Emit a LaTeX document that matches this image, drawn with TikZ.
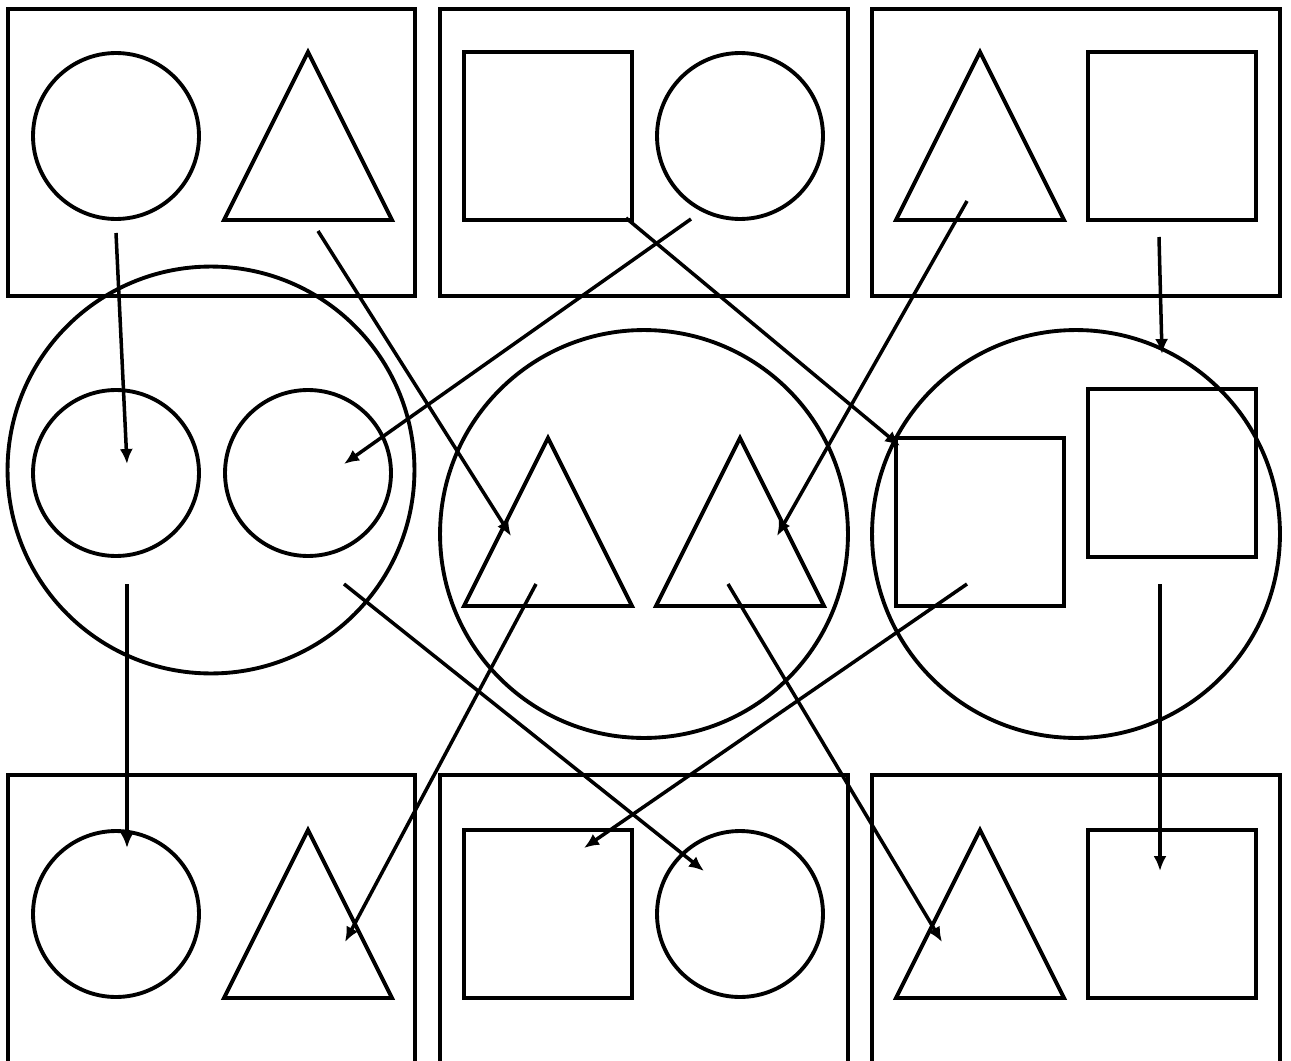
\documentclass[tikz,border=0pt]{standalone}
\usetikzlibrary{arrows.meta}
\begin{document}
\begin{tikzpicture}[x=0.02cm,y=-0.02cm,
  outl/.style={draw=black, line width=2.2pt, line join=miter, inner sep=0pt, outer sep=0pt},
  panel/.style={draw=black, line width=2.5pt, line join=miter},
  circ/.style={outl, circle, minimum size=3.32cm},
  sq/.style={outl, rectangle, minimum size=3.36cm},
  conn/.style={draw=black, line width=2pt, -{Latex[length=0.3cm,width=0.26cm]}}]
\clip (0,0) rectangle (1291,1061);
\useasboundingbox (0,0) rectangle (1291,1061);
\fill[white] (0,0) rectangle (1291,1061);
% top panels
\draw[panel] (8,9) rectangle (415,296);
\draw[panel] (440,9) rectangle (848,296);
\draw[panel] (872,9) rectangle (1280,296);
\node[circ] (tcA) at (116,136) {};
\draw[outl] (308,52) coordinate (ttA) -- (392,220) -- (224,220) -- cycle;
\node[sq] (tsB) at (548,136) {};
\node[circ] (tcB) at (740,136) {};
\draw[outl] (980,52) coordinate (ttC) -- (1064,220) -- (896,220) -- cycle;
\node[sq] (tsC) at (1172,136) {};
% middle big circles
\node[outl, circle, minimum size=8.14cm] (mA) at (211,470) {};
\node[outl, circle, minimum size=8.16cm] (mB) at (644,534) {};
\node[outl, circle, minimum size=8.16cm] (mC) at (1076,534) {};
\node[circ] (mcA1) at (116,473) {};
\node[circ] (mcA2) at (308,473) {};
\draw[outl] (548,438) coordinate (mtB1) -- (632,606) -- (464,606) -- cycle;
\draw[outl] (740,438) coordinate (mtB2) -- (824,606) -- (656,606) -- cycle;
\node[sq] (msC1) at (980,522) {};
\node[sq] (msC2) at (1172,473) {};
% bottom panels
\draw[panel] (8,1070) -- (8,775) -- (415,775) -- (415,1070);
\draw[panel] (440,1070) -- (440,775) -- (848,775) -- (848,1070);
\draw[panel] (872,1070) -- (872,775) -- (1280,775) -- (1280,1070);
\node[circ] (bcA) at (116,914) {};
\draw[outl] (308,830) coordinate (btA) -- (392,998) -- (224,998) -- cycle;
\node[sq] (bsB) at (548,914) {};
\node[circ] (bcB) at (740,914) {};
\draw[outl] (980,830) coordinate (btC) -- (1064,998) -- (896,998) -- cycle;
\node[sq] (bsC) at (1172,914) {};
% connector end points
\coordinate (s1) at (116,233);  \coordinate (e1) at (127,464);
\coordinate (s2) at (318,231);  \coordinate (e2) at (511,536);
\coordinate (s3) at (691,219);  \coordinate (e3) at (344,464);
\coordinate (s4) at (626,218);  \coordinate (e4) at (900,446);
\coordinate (s5) at (967,201);  \coordinate (e5) at (777,536);
\coordinate (s6) at (1159,237); \coordinate (e6) at (1162,354);
\coordinate (s7) at (127,584);  \coordinate (e7) at (127,848);
\coordinate (s8) at (344,584);  \coordinate (e8) at (704,871);
\coordinate (s9) at (536,584);  \coordinate (e9) at (345,942);
\coordinate (s10) at (728,584); \coordinate (e10) at (942,942);
\coordinate (s11) at (967,584); \coordinate (e11) at (584,848);
\coordinate (s12) at (1160,584);\coordinate (e12) at (1160,871);
\foreach \i in {1,...,12} { \draw[conn] (s\i) -- (e\i); }
\end{tikzpicture}
\end{document}
